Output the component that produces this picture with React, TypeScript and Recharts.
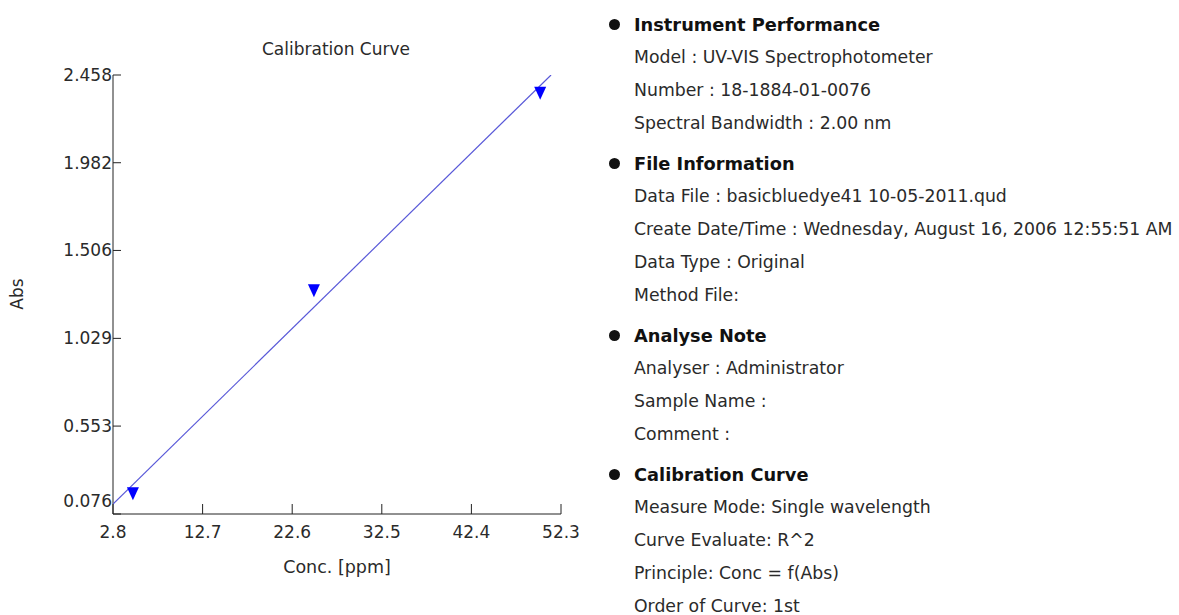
import React from 'react';
import { ScatterChart, Scatter, XAxis, YAxis } from 'recharts';

// axis ticks
const concTicks = [2.8, 12.7, 22.6, 32.5, 42.4, 52.3];
const absTicks = [0.076, 0.553, 1.029, 1.506, 1.982, 2.458];

// measured standards
const stdConc = [5.0, 25.0, 50.0];
const stdAbs = [0.186, 1.287, 2.359];

// ends of the 1st order fit line
const fitConc = [2.8, 51.2];
const fitAbs = [0.13, 2.458];

// report sections
const instrumentLines = [
  'Model : UV-VIS Spectrophotometer',
  'Number : 18-1884-01-0076',
  'Spectral Bandwidth : 2.00 nm',
];
const fileLines = [
  'Data File : basicbluedye41 10-05-2011.qud',
  'Create Date/Time : Wednesday, August 16, 2006 12:55:51 AM',
  'Data Type : Original',
  'Method File:',
];
const noteLines = ['Analyser : Administrator', 'Sample Name :', 'Comment :'];
const curveLines = [
  'Measure Mode: Single wavelength',
  'Curve Evaluate: R^2',
  'Principle: Conc = f(Abs)',
  'Order of Curve: 1st',
];

const sections = [
  { title: 'Instrument Performance', lines: instrumentLines },
  { title: 'File Information', lines: fileLines },
  { title: 'Analyse Note', lines: noteLines },
  { title: 'Calibration Curve', lines: curveLines },
];

const standards = stdConc.map((c, i) => ({ conc: c, abs: stdAbs[i] }));
const fitLine = fitConc.map((c, i) => ({ conc: c, abs: fitAbs[i] }));

const FONT = '"DejaVu Sans", Verdana, sans-serif';
const AXIS = '#222';
const TEXT = '#2a2a2a';

function ConcTick({ x, y, payload }: any) {
  return (
    <g>
      <line x1={x} y1={y} x2={x} y2={y - 10} stroke={AXIS} strokeWidth={1} />
      <text
        x={x}
        y={y + 18}
        textAnchor="middle"
        dominantBaseline="central"
        fontSize={17}
        fontFamily={FONT}
        fill={TEXT}
      >
        {Number(payload.value).toFixed(1)}
      </text>
    </g>
  );
}

function AbsTick({ x, y, payload }: any) {
  // lowest label is lifted so it stays clear of the x axis
  const dy = payload.value === absTicks[0] ? -13 : 0;
  return (
    <g>
      <line x1={x} y1={y} x2={x + 8} y2={y} stroke={AXIS} strokeWidth={1} />
      <text
        x={x - 1}
        y={y + dy}
        textAnchor="end"
        dominantBaseline="central"
        fontSize={17}
        fontFamily={FONT}
        fill={TEXT}
      >
        {Number(payload.value).toFixed(3)}
      </text>
    </g>
  );
}

function DownTriangle({ cx, cy }: any) {
  if (cx == null || cy == null) return null;
  return (
    <path
      d={`M${cx - 6},${cy - 6.5} L${cx + 6},${cy - 6.5} L${cx},${cy + 6.5} Z`}
      fill="#0000ff"
    />
  );
}

function CalibrationChart() {
  return (
    <ScatterChart
      width={600}
      height={615}
      margin={{ top: 75, right: 39, bottom: 0, left: 0 }}
    >
      <text
        x={336}
        y={49}
        textAnchor="middle"
        dominantBaseline="central"
        fontSize={17}
        fontFamily={FONT}
        fill={TEXT}
      >
        Calibration Curve
      </text>
      <XAxis
        type="number"
        dataKey="conc"
        domain={[2.8, 52.3]}
        ticks={concTicks}
        interval={0}
        allowDataOverflow
        height={101}
        tickSize={0}
        tickMargin={0}
        tickLine={false}
        axisLine={{ stroke: AXIS, strokeWidth: 1 }}
        tick={<ConcTick />}
        label={{
          content: () => (
            <text
              x={337}
              y={567}
              textAnchor="middle"
              dominantBaseline="central"
              fontSize={17.5}
              fontFamily={FONT}
              fill={TEXT}
            >
              Conc. [ppm]
            </text>
          ),
        }}
      />
      <YAxis
        type="number"
        dataKey="abs"
        domain={[0.076, 2.458]}
        ticks={absTicks}
        interval={0}
        allowDataOverflow
        width={113}
        tickSize={0}
        tickMargin={0}
        tickLine={false}
        axisLine={{ stroke: AXIS, strokeWidth: 1 }}
        tick={<AbsTick />}
        label={{
          content: () => (
            <text
              x={17}
              y={294}
              transform="rotate(-90 17 294)"
              textAnchor="middle"
              dominantBaseline="central"
              fontSize={17}
              fontFamily={FONT}
              fill={TEXT}
            >
              Abs
            </text>
          ),
        }}
      />
      <Scatter
        data={fitLine}
        line={{ stroke: '#5858d8', strokeWidth: 1.2 }}
        shape={() => <g />}
        isAnimationActive={false}
      />
      <Scatter
        data={standards}
        shape={<DownTriangle />}
        isAnimationActive={false}
      />
    </ScatterChart>
  );
}

function InfoPanel() {
  return (
    <div style={{ position: 'absolute', left: 0, top: 7.5, fontFamily: FONT }}>
      {sections.map((s, si) => (
        <div key={s.title} style={{ marginTop: si === 0 ? 0 : 7 }}>
          <div
            style={{
              position: 'relative',
              height: 33,
              lineHeight: '33px',
              fontSize: 17.8,
              fontWeight: 'bold',
              color: '#111',
              whiteSpace: 'nowrap',
            }}
          >
            <span
              style={{
                position: 'absolute',
                left: -25,
                top: 11,
                width: 11,
                height: 11,
                borderRadius: '50%',
                background: '#111',
              }}
            />
            {s.title}
          </div>
          {s.lines.map((l) => (
            <div
              key={l}
              style={{
                height: 33,
                lineHeight: '33px',
                fontSize: 17.3,
                color: TEXT,
                whiteSpace: 'nowrap',
              }}
            >
              {l}
            </div>
          ))}
        </div>
      ))}
    </div>
  );
}

export default function App() {
  return (
    <div
      style={{
        position: 'absolute',
        left: 0,
        top: 0,
        width: 1179,
        height: 615,
        background: '#fff',
        overflow: 'hidden',
      }}
    >
      <div style={{ position: 'absolute', left: 0, top: 0 }}>
        <CalibrationChart />
      </div>
      <div style={{ position: 'absolute', left: 634, top: 0 }}>
        <InfoPanel />
      </div>
    </div>
  );
}
